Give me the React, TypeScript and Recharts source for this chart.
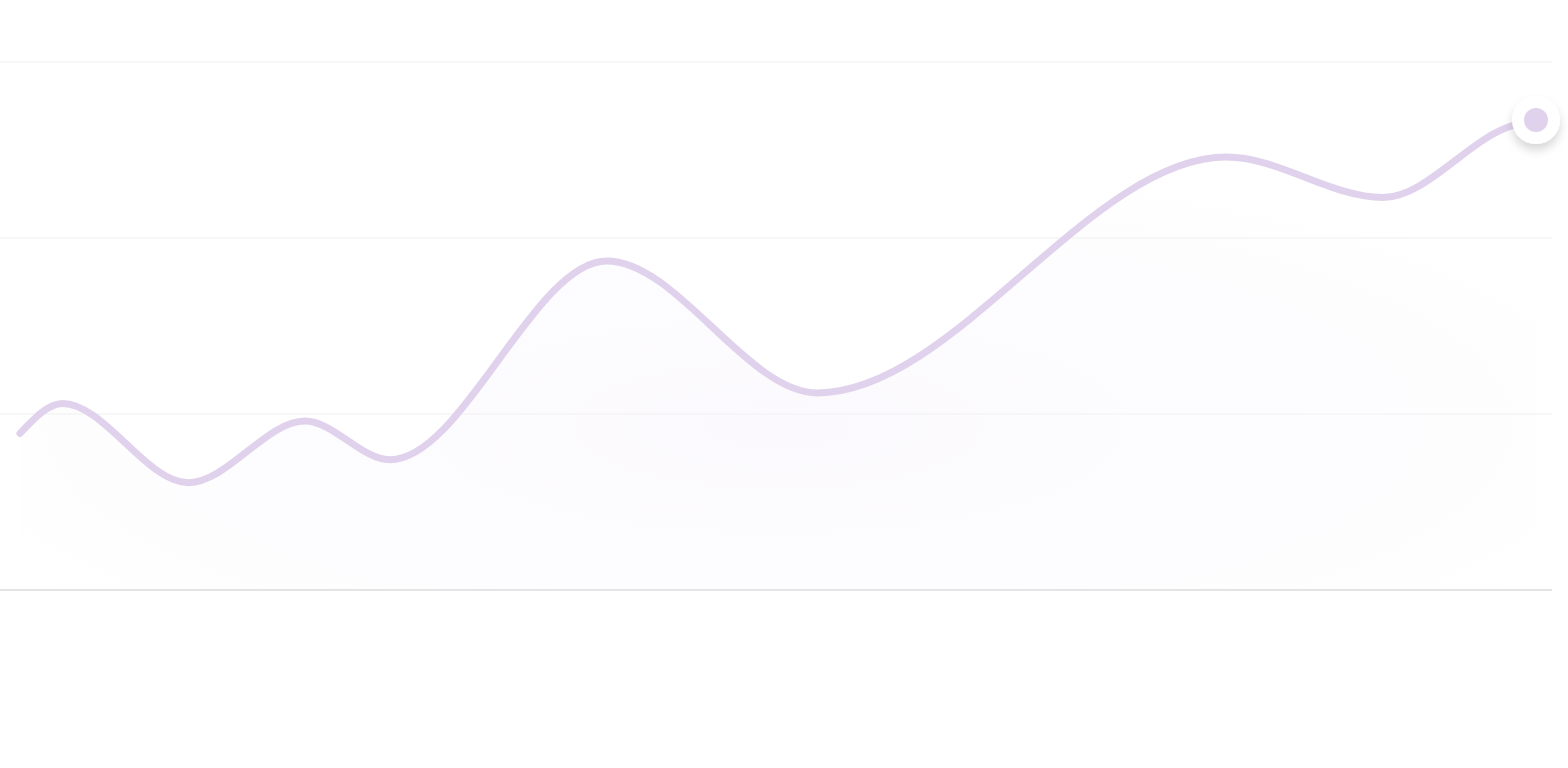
import { ComposedChart, Line, Area, XAxis, YAxis, CartesianGrid, ReferenceLine } from "recharts";

// time position (0-100) and value
const times = [0, 2.8, 11.1, 18.8, 24.4, 38.7, 52.6, 79.6, 89.9, 98.5, 100];
const values = [89, 106, 61, 96, 74, 187, 112, 246, 223, 264, 267];
const yTicks = [0, 100, 200, 300];

const data = times.map((t, i) => ({ t, value: values[i] }));
const lineColor = "#e0d2ec";

const EndDot = (props: any) => {
  const { cx, cy, index } = props;
  if (index !== data.length - 1) return <g key={index} />;
  return (
    <g key={index}>
      <circle cx={cx} cy={cy} r={24} fill="#fff" filter="url(#dotShadow)" />
      <circle cx={cx} cy={cy} r={12} fill={lineColor} />
    </g>
  );
};

export default function App() {
  return (
    <div style={{ position: "absolute", left: 0, top: 0, background: "#fff" }}>
      <ComposedChart width={1568} height={768} data={data} margin={{ top: 62, right: 16, bottom: 178, left: 0 }}>
        <defs>
          <radialGradient id="areaFill" cx="0.5" cy="0.65" r="0.6">
            <stop offset="0%" stopColor="#f5f1fa" stopOpacity={0.7} />
            <stop offset="60%" stopColor="#f7f4fb" stopOpacity={0.45} />
            <stop offset="100%" stopColor="#f7f4fb" stopOpacity={0} />
          </radialGradient>
          <filter id="dotShadow" x="-60%" y="-60%" width="220%" height="220%">
            <feDropShadow dx="0" dy="6" stdDeviation="5" floodColor="#000" floodOpacity="0.16" />
          </filter>
        </defs>
        <CartesianGrid vertical={false} stroke="#efefef" />
        <XAxis dataKey="t" type="number" domain={[0, 100]} hide padding={{ left: 20, right: 16 }} />
        <YAxis hide domain={[0, 300]} ticks={yTicks} width={0} />
        <ReferenceLine y={0} stroke="#e4e4e4" strokeWidth={2} />
        <Area type="monotone" dataKey="value" stroke="none" fill="url(#areaFill)" isAnimationActive={false} />
        <Line
          type="monotone"
          dataKey="value"
          stroke={lineColor}
          strokeWidth={7}
          strokeLinecap="round"
          strokeLinejoin="round"
          dot={EndDot}
          activeDot={false}
          isAnimationActive={false}
        />
      </ComposedChart>
    </div>
  );
}
